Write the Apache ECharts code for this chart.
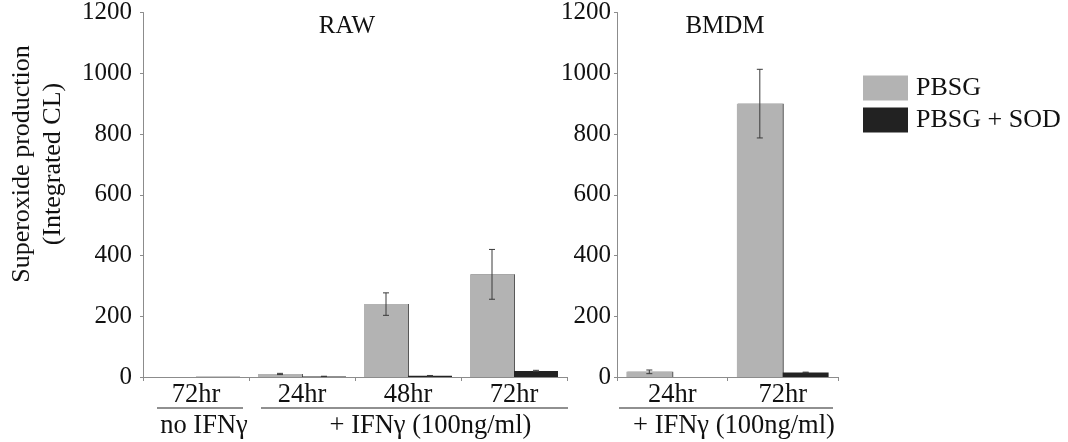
<!DOCTYPE html>
<html>
<head>
<meta charset="utf-8">
<script src="https://cdn.jsdelivr.net/npm/echarts@6/dist/echarts.min.js"></script>
<style>
html,body{margin:0;padding:0;background:#fff;}
#c{width:1068px;height:442px;}
</style>
</head>
<body>
<div id="c"></div>
<script>
// ---- data ----
const rawCats = ['72hr', '24hr', '48hr', '72hr'];
const rawPBSG = [0, 10, 240, 338];
const rawPBSGErr = [0, 2, 37, 82];
const rawSOD = [1, 2, 4, 20];
const rawSODErr = [0, 0.5, 1, 2];

const bmdmCats = ['24hr', '72hr'];
const bmdmPBSG = [17, 900];
const bmdmPBSGErr = [6, 113];
const bmdmSOD = [0, 15];
const bmdmSODErr = [0, 1];

const seriesNames = ['PBSG', 'PBSG + SOD'];
const panelTitles = ['RAW', 'BMDM'];
const rawGroups = [
  { label: 'no IFNγ', from: 0, to: 0 },
  { label: '+ IFNγ (100ng/ml)', from: 1, to: 3 }
];
const bmdmGroups = [
  { label: '+ IFNγ (100ng/ml)', from: 0, to: 1 }
];
const yAxisTitle = 'Superoxide production\n(Integrated CL)';

// ---- styling ----
const FONT = 'Liberation Serif';
const TXT = '#111';
const GRAY = '#b3b3b3';
const BLACK = '#222222';
const AXIS = '#8c8c8c';
const CAT_GAP = 0.17;
// per-panel bracket tweaks (pixels): [lineStartInset, lineEndInset, labelShift]
const rawBracketStyle = [[14, -6, 4], [12, 1, 16]];
const bmdmBracketStyle = [[2, -5, 8]];

const chart = echarts.init(document.getElementById('c'), null, { renderer: 'canvas' });

function errSeries(name, gridIdx, vals, errs, side) {
  const data = vals.map((v, i) => [i, v - errs[i], v + errs[i], errs[i]]);
  return {
    type: 'custom',
    name: name + ' err',
    xAxisIndex: gridIdx, yAxisIndex: gridIdx,
    data: data,
    encode: { x: 0, y: [1, 2] },
    silent: true,
    z: 5,
    renderItem: function (params, api) {
      if (!(api.value(3) > 0)) return null;
      const i = api.value(0);
      const band = api.size([1, 0])[0];
      const barW = band * (1 - CAT_GAP) / 2;
      const dx = side * barW / 2;
      const lo = api.coord([i, Math.max(0, api.value(1))]);
      const hi = api.coord([i, api.value(2)]);
      const x = lo[0] + dx;
      const cap = 3;
      const st = { stroke: '#3a3a3a', lineWidth: 1 };
      return {
        type: 'group',
        children: [
          { type: 'line', shape: { x1: x, y1: lo[1], x2: x, y2: hi[1] }, style: st },
          { type: 'line', shape: { x1: x - cap, y1: lo[1], x2: x + cap, y2: lo[1] }, style: st },
          { type: 'line', shape: { x1: x - cap, y1: hi[1], x2: x + cap, y2: hi[1] }, style: st }
        ]
      };
    }
  };
}

function barSeries(name, gridIdx, vals, color) {
  return {
    type: 'bar',
    name: name,
    xAxisIndex: gridIdx, yAxisIndex: gridIdx,
    data: vals,
    barGap: '0%',
    barCategoryGap: (CAT_GAP * 100) + '%',
    itemStyle: {
      color: color,
      shadowColor: color === GRAY ? 'rgba(70,70,70,0.9)' : 'rgba(0,0,0,0)',
      shadowOffsetX: 1,
      shadowBlur: 0
    }
  };
}

function xAxisDef(gridIdx, cats) {
  return {
    type: 'category', gridIndex: gridIdx, data: cats,
    axisLine: { lineStyle: { color: AXIS, width: 1 } },
    axisTick: { show: true, length: 4, lineStyle: { color: AXIS } },
    axisLabel: { fontFamily: FONT, fontSize: 26.5, color: TXT, margin: 5 },
    splitLine: { show: false }
  };
}
function yAxisDef(gridIdx, margin) {
  return {
    type: 'value', gridIndex: gridIdx, min: 0, max: 1200, interval: 200,
    axisLine: { show: true, lineStyle: { color: AXIS, width: 1 } },
    axisTick: { show: true, length: 3, lineStyle: { color: AXIS } },
    axisLabel: { fontFamily: FONT, fontSize: 25, color: TXT, margin: margin,
      formatter: function (v) { return String(v); } },
    splitLine: { show: false }
  };
}

const option = {
  animation: false,
  backgroundColor: '#fff',
  title: [
    { text: panelTitles[0], left: 342, top: 9, textAlign: 'center',
      textStyle: { fontFamily: FONT, fontSize: 25, fontWeight: 'normal', color: TXT } },
    { text: panelTitles[1], left: 720, top: 9, textAlign: 'center',
      textStyle: { fontFamily: FONT, fontSize: 25, fontWeight: 'normal', color: TXT } }
  ],
  legend: {
    orient: 'vertical', left: 858, top: 70,
    itemWidth: 45, itemHeight: 25, itemGap: 6,
    icon: 'rect',
    data: seriesNames,
    textStyle: { fontFamily: FONT, fontSize: 26, color: TXT, padding: [0, 0, 0, 3] }
  },
  grid: [
    { left: 143, top: 12, width: 424, height: 365 },
    { left: 617, top: 12, width: 221, height: 365 }
  ],
  xAxis: [xAxisDef(0, rawCats), xAxisDef(1, bmdmCats)],
  yAxis: [yAxisDef(0, 11), yAxisDef(1, 6)],
  series: [
    barSeries(seriesNames[0], 0, rawPBSG, GRAY),
    barSeries(seriesNames[1], 0, rawSOD, BLACK),
    barSeries(seriesNames[0], 1, bmdmPBSG, GRAY),
    barSeries(seriesNames[1], 1, bmdmSOD, BLACK),
    errSeries(seriesNames[0], 0, rawPBSG, rawPBSGErr, -1),
    errSeries(seriesNames[1], 0, rawSOD, rawSODErr, 1),
    errSeries(seriesNames[0], 1, bmdmPBSG, bmdmPBSGErr, -1),
    errSeries(seriesNames[1], 1, bmdmSOD, bmdmSODErr, 1)
  ]
};
chart.setOption(option);

// ---- group brackets under category labels, positioned via axis scales ----
function groupGraphics(gridIdx, groups, nCats, tweaks) {
  const els = [];
  const c0 = chart.convertToPixel({ xAxisIndex: gridIdx }, 0);
  const c1 = nCats > 1 ? chart.convertToPixel({ xAxisIndex: gridIdx }, 1) : c0 + 100;
  const band = c1 - c0;
  const baseY = chart.convertToPixel({ yAxisIndex: gridIdx }, 0);
  groups.forEach((g, k) => {
    const t = tweaks[k];
    const xs = chart.convertToPixel({ xAxisIndex: gridIdx }, g.from) - band / 2 + t[0];
    const xe = chart.convertToPixel({ xAxisIndex: gridIdx }, g.to) + band / 2 + t[1];
    els.push({
      type: 'line',
      shape: { x1: xs, y1: baseY + 31, x2: xe, y2: baseY + 31 },
      style: { stroke: '#222', lineWidth: 1.2 }
    });
    els.push({
      type: 'text',
      x: (xs + xe) / 2 + t[2], y: baseY + 49,
      style: { text: g.label, fontFamily: FONT, fontSize: 26.5, fill: TXT, align: 'center', verticalAlign: 'middle' }
    });
  });
  return els;
}

const graphics = [].concat(
  groupGraphics(0, rawGroups, rawCats.length, rawBracketStyle),
  groupGraphics(1, bmdmGroups, bmdmCats.length, bmdmBracketStyle),
  [{
    type: 'text',
    x: 38, y: 164,
    rotation: Math.PI / 2,
    style: { text: yAxisTitle, fontFamily: FONT, fontSize: 26, lineHeight: 31, fill: TXT, align: 'center', verticalAlign: 'middle' }
  }]
);
chart.setOption({ graphic: graphics });
</script>
</body>
</html>
